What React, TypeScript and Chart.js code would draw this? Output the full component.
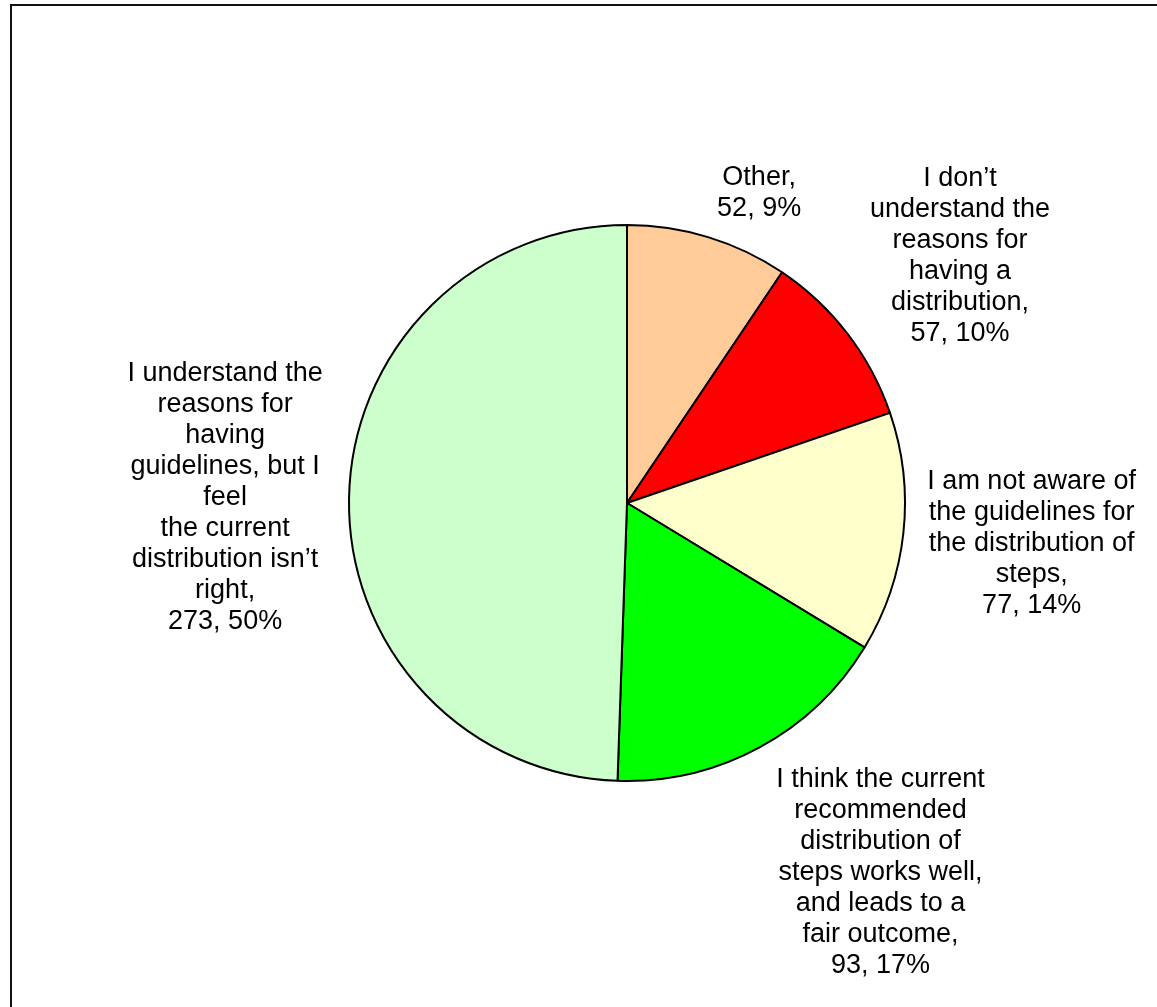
import React, { useEffect, useRef } from "react";
import { Chart, registerables } from "chart.js";

Chart.register(...registerables);

// ---- data ----
const categoryLines: string[][] = [
  ["Other,"],
  ["I don’t", "understand the", "reasons for", "having a", "distribution,"],
  ["I am not aware of", "the guidelines for", "the distribution of", "steps,"],
  [
    "I think the current",
    "recommended",
    "distribution of",
    "steps works well,",
    "and leads to a",
    "fair outcome,",
  ],
  [
    "I understand the",
    "reasons for",
    "having",
    "guidelines, but I",
    "feel",
    "the current",
    "distribution isn’t",
    "right,",
  ],
];
const counts = [52, 57, 77, 93, 273];
const percentLabels = ["9%", "10%", "14%", "17%", "50%"];
const sliceColors = ["#FFCC99", "#FF0000", "#FFFFCC", "#00FF00", "#CCFFCC"];

// ---- layout (label placement tweaks, not data) ----
const FONT = '27px "Liberation Sans", Arial, sans-serif';
const LINE_H = 31;
const GAP = 20;
const labelNudges: [number, number][] = [
  [33, 15],
  [-5, 12],
  [-3, -4],
  [43, -20],
  [-4, 1],
];

const outerLabels = {
  id: "outerLabels",
  afterDatasetsDraw(chart: any) {
    const ctx = chart.ctx as CanvasRenderingContext2D;
    const meta = chart.getDatasetMeta(0);
    ctx.save();
    ctx.font = FONT;
    ctx.fillStyle = "#000";
    ctx.textAlign = "center";
    ctx.textBaseline = "middle";
    meta.data.forEach((arc: any, i: number) => {
      const { x, y, startAngle, endAngle, outerRadius } = arc.getProps(
        ["x", "y", "startAngle", "endAngle", "outerRadius"],
        true
      );
      const mid = (startAngle + endAngle) / 2;
      const dx = Math.cos(mid);
      const dy = Math.sin(mid);
      const lines = [...categoryLines[i], `${counts[i]}, ${percentLabels[i]}`];
      const w = Math.max(...lines.map((l) => ctx.measureText(l).width));
      const h = lines.length * LINE_H;
      const support = (Math.abs(dx) * w) / 2 + (Math.abs(dy) * h) / 2;
      const dist = outerRadius + GAP + support;
      const cx = x + dx * dist + labelNudges[i][0];
      const cy = y + dy * dist + labelNudges[i][1];
      lines.forEach((l, k) => {
        ctx.fillText(l, cx, cy - h / 2 + LINE_H * (k + 0.5));
      });
    });
    ctx.restore();
  },
};

export default function App() {
  const canvasRef = useRef<HTMLCanvasElement | null>(null);

  useEffect(() => {
    if (!canvasRef.current) return;
    const chart = new Chart(canvasRef.current, {
      type: "pie",
      data: {
        labels: categoryLines.map((l) => l.join(" ")),
        datasets: [
          {
            data: counts,
            backgroundColor: sliceColors,
            borderColor: "#000",
            borderWidth: 2,
          },
        ],
      },
      options: {
        responsive: false,
        animation: false,
        layout: { padding: { left: 348, right: 251, top: 224, bottom: 225 } },
        plugins: {
          legend: { display: false },
          tooltip: { enabled: false },
        },
      },
      plugins: [outerLabels],
    });
    return () => chart.destroy();
  }, []);

  return (
    <div
      style={{
        position: "fixed",
        left: 0,
        top: 0,
        width: 1157,
        height: 1007,
        background: "#fff",
      }}
    >
      <canvas ref={canvasRef} width={1157} height={1007} />
      <div
        style={{
          position: "absolute",
          left: 10,
          top: 4,
          width: 1200,
          height: 1100,
          borderLeft: "2px solid #111",
          borderTop: "2px solid #111",
          pointerEvents: "none",
        }}
      />
    </div>
  );
}
